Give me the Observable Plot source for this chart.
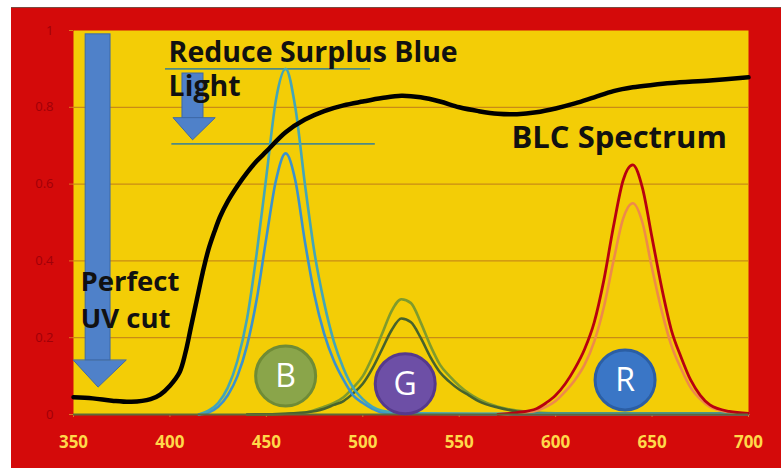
<!DOCTYPE html>
<html>
<head>
<meta charset="utf-8">
<script src="https://cdn.jsdelivr.net/npm/d3@7"></script>
<script src="https://cdn.jsdelivr.net/npm/@observablehq/plot@0.6"></script>
<style>
  html, body { margin: 0; padding: 0; background: #ffffff; }
  #wrap { width: 781px; height: 468px; box-sizing: border-box; padding-left: 11px; padding-top: 7px; background: #fff; overflow: hidden; }
  #wrap svg { display: block; border-top: 1px solid #7a4a40; }
</style>
</head>
<body>
<div id="wrap"></div>
<script>
// ---- Data ----
const xTicks = [350, 400, 450, 500, 550, 600, 650, 700];
const yTicks = [0, 0.2, 0.4, 0.6, 0.8, 1];
const yTickLabels = ["0", "0.2", "0.4", "0.6", "0.8", "1"];

// BLC spectrum (black curve)
const blcWl  = [350, 360, 370, 380, 390, 395, 400, 405, 408, 411, 414, 417, 420, 423, 426, 430, 435, 440, 445, 450, 460, 470, 480, 490, 500, 510, 520, 530, 540, 550, 560, 570, 580, 590, 600, 610, 620, 630, 640, 650, 660, 680, 700];
const blcVal = [0.045, 0.042, 0.036, 0.033, 0.04, 0.052, 0.075, 0.11, 0.16, 0.23, 0.30, 0.37, 0.43, 0.475, 0.515, 0.555, 0.595, 0.63, 0.66, 0.685, 0.735, 0.768, 0.79, 0.805, 0.815, 0.824, 0.83, 0.826, 0.815, 0.80, 0.79, 0.783, 0.782, 0.787, 0.797, 0.81, 0.826, 0.842, 0.852, 0.858, 0.863, 0.87, 0.878];

// Blue LED peaks
const blueWl    = [415, 420, 425, 430, 435, 440, 445, 450, 455, 460, 465, 470, 475, 480, 485, 490, 495, 500, 505, 510, 520, 560, 700];
const blueHigh  = [0, 0.01, 0.03, 0.07, 0.14, 0.25, 0.42, 0.62, 0.82, 0.90, 0.80, 0.60, 0.42, 0.29, 0.19, 0.12, 0.07, 0.04, 0.02, 0.01, 0.004, 0.002, 0.002];
const blueLow   = [0, 0.005, 0.02, 0.05, 0.10, 0.18, 0.30, 0.46, 0.61, 0.68, 0.61, 0.45, 0.31, 0.21, 0.14, 0.09, 0.05, 0.03, 0.015, 0.005, 0.002, 0.001, 0.001];

// Green LED peaks
const greenWl   = [440, 460, 470, 480, 485, 490, 495, 500, 505, 510, 515, 520, 525, 530, 535, 540, 545, 550, 555, 560, 570, 580, 590, 600, 700];
const greenHigh = [0, 0.002, 0.005, 0.02, 0.03, 0.045, 0.07, 0.10, 0.15, 0.21, 0.27, 0.30, 0.29, 0.24, 0.18, 0.13, 0.10, 0.075, 0.055, 0.04, 0.02, 0.01, 0.005, 0.003, 0.003];
const greenLow  = [0, 0.002, 0.005, 0.015, 0.025, 0.035, 0.055, 0.08, 0.12, 0.17, 0.22, 0.25, 0.24, 0.20, 0.15, 0.11, 0.085, 0.065, 0.05, 0.035, 0.018, 0.008, 0.003, 0.002, 0.002];

// Red LED peaks
const redWl   = [570, 580, 590, 595, 600, 605, 610, 615, 620, 625, 630, 635, 640, 645, 650, 655, 660, 665, 670, 675, 680, 690, 700];
const redHigh = [0, 0.005, 0.015, 0.03, 0.05, 0.08, 0.12, 0.17, 0.24, 0.35, 0.49, 0.61, 0.65, 0.59, 0.46, 0.33, 0.22, 0.15, 0.09, 0.05, 0.025, 0.008, 0.003];
const redLow  = [0, 0.003, 0.01, 0.02, 0.035, 0.06, 0.09, 0.13, 0.19, 0.28, 0.40, 0.51, 0.55, 0.50, 0.38, 0.27, 0.18, 0.12, 0.07, 0.04, 0.02, 0.006, 0.002];

// Annotation levels (surplus blue band)
const surplusLevels = [0.90, 0.705];
const badges = ["B", "G", "R"];
const badgeWl = [460, 522, 636];
const badgeVal = [0.10, 0.08, 0.09];

// ---- helpers ----
const pts = (xs, ys) => xs.map((x, i) => ({x, y: ys[i]}));
const RED = "#d40a0a", YELLOW = "#f3cd06", ARROW = "#4f81c9", ARROW_EDGE = "#3d69a8";
const FONT = "'Open Sans', 'DejaVu Sans', sans-serif";

function arrow(cx, bx1, bx2, top, base, hx1, hx2, tip) {
  return [
    Plot.rect([0], {x1: bx1, x2: bx2, y1: base, y2: top, fill: ARROW, stroke: ARROW_EDGE, strokeWidth: 1}),
    Plot.areaX([{y: base, a: hx1, b: hx2}, {y: tip, a: cx, b: cx}], {y: "y", x1: "a", x2: "b", fill: ARROW, stroke: ARROW_EDGE, strokeWidth: 1})
  ];
}

const chart = Plot.plot({
  width: 770,
  height: 460,
  marginLeft: 62,
  marginRight: 33,
  marginTop: 22,
  marginBottom: 54,
  style: {background: RED, fontFamily: FONT, overflow: "visible"},
  x: {domain: [350, 700]},
  y: {domain: [0, 1]},
  marks: [
    Plot.frame({fill: YELLOW, stroke: null}),
    Plot.gridY([0.2, 0.4, 0.6, 0.8], {stroke: "#c98b16", strokeOpacity: 1, strokeWidth: 1.3}),
    Plot.axisY({ticks: yTicks, tickFormat: d => yTickLabels[yTicks.indexOf(d)], tickSize: 4, tickPadding: 16, stroke: "#e07820", fill: "#a00008", fontSize: 13, label: null}),
    Plot.axisX({ticks: xTicks, tickFormat: d => String(d), tickSize: 3, tickPadding: 18, stroke: "#e07820", fill: "#ffd84a", fontSize: 17, fontWeight: "bold", label: null}),
    // surplus blue band lines
    Plot.ruleY([surplusLevels[0]], {x1: 397.7, x2: 504, stroke: "#4f8a84", strokeWidth: 1.8}),
    Plot.ruleY([surplusLevels[1]], {x1: 401, x2: 506.5, stroke: "#4f8a84", strokeWidth: 1.8}),
    // arrows
    ...arrow(363, 356.3, 369.2, 0.99, 0.14, 350.2, 377.5, 0.07),
    ...arrow(412, 406.5, 417.4, 0.888, 0.771, 402, 423.6, 0.714),
    // peaks
    Plot.line(pts(greenWl, greenHigh), {x: "x", y: "y", stroke: "#7f9b2c", strokeWidth: 2.6, curve: "monotone-x"}),
    Plot.line(pts(greenWl, greenLow), {x: "x", y: "y", stroke: "#47632c", strokeWidth: 2.6, curve: "monotone-x"}),
    Plot.line(pts(blueWl, blueLow), {x: "x", y: "y", stroke: "#3a92cf", strokeWidth: 2.6, curve: "monotone-x"}),
    Plot.line(pts(blueWl, blueHigh), {x: "x", y: "y", stroke: "#43a6b8", strokeWidth: 2.6, curve: "monotone-x"}),
    Plot.line(pts(redWl, redLow), {x: "x", y: "y", stroke: "#ee8a4a", strokeWidth: 2.6, curve: "monotone-x"}),
    Plot.line(pts(redWl, redHigh), {x: "x", y: "y", stroke: "#b80010", strokeWidth: 2.8, curve: "monotone-x"}),
    // BLC spectrum
    Plot.line(pts(blcWl, blcVal), {x: "x", y: "y", stroke: "#000000", strokeWidth: 4.5, curve: "catmull-rom"}),
    // bottom axis line
    Plot.ruleY([0], {stroke: "#5d6a3a", strokeWidth: 2}),
    // badges
    Plot.dot(badges.map((b, i) => ({b, x: badgeWl[i], y: badgeVal[i]})), {x: "x", y: "y", r: 30, fill: d => ({B: "#8aa54a", G: "#6d4fa6", R: "#3a76c6"})[d.b], stroke: d => ({B: "#6f8b36", G: "#55398c", R: "#2b5ea4"})[d.b], strokeWidth: 3}),
    Plot.text(badges.map((b, i) => ({b, x: badgeWl[i], y: badgeVal[i]})), {x: "x", y: "y", text: "b", fill: "#ffffff", fontSize: 32, fontFamily: "'Open Sans', sans-serif", dy: 1}),
    // annotation text
    Plot.text(["Reduce Surplus Blue"], {x: 399.3, y: 0.941, text: d => d, textAnchor: "start", fontSize: 28.5, fontWeight: "bold", fill: "#111"}),
    Plot.text(["Light"], {x: 399.3, y: 0.852, text: d => d, textAnchor: "start", fontSize: 28.5, fontWeight: "bold", fill: "#111"}),
    Plot.text(["BLC Spectrum"], {x: 577.1, y: 0.721, text: d => d, textAnchor: "start", fontSize: 31, fontWeight: "bold", fill: "#111"}),
    Plot.text(["Perfect"], {x: 353.6, y: 0.344, text: d => d, textAnchor: "start", fontSize: 27.5, fontWeight: "bold", fill: "#111"}),
    Plot.text(["UV cut"], {x: 353.6, y: 0.247, text: d => d, textAnchor: "start", fontSize: 27.5, fontWeight: "bold", fill: "#111"})
  ]
});
document.getElementById("wrap").appendChild(chart);
</script>
</body>
</html>
